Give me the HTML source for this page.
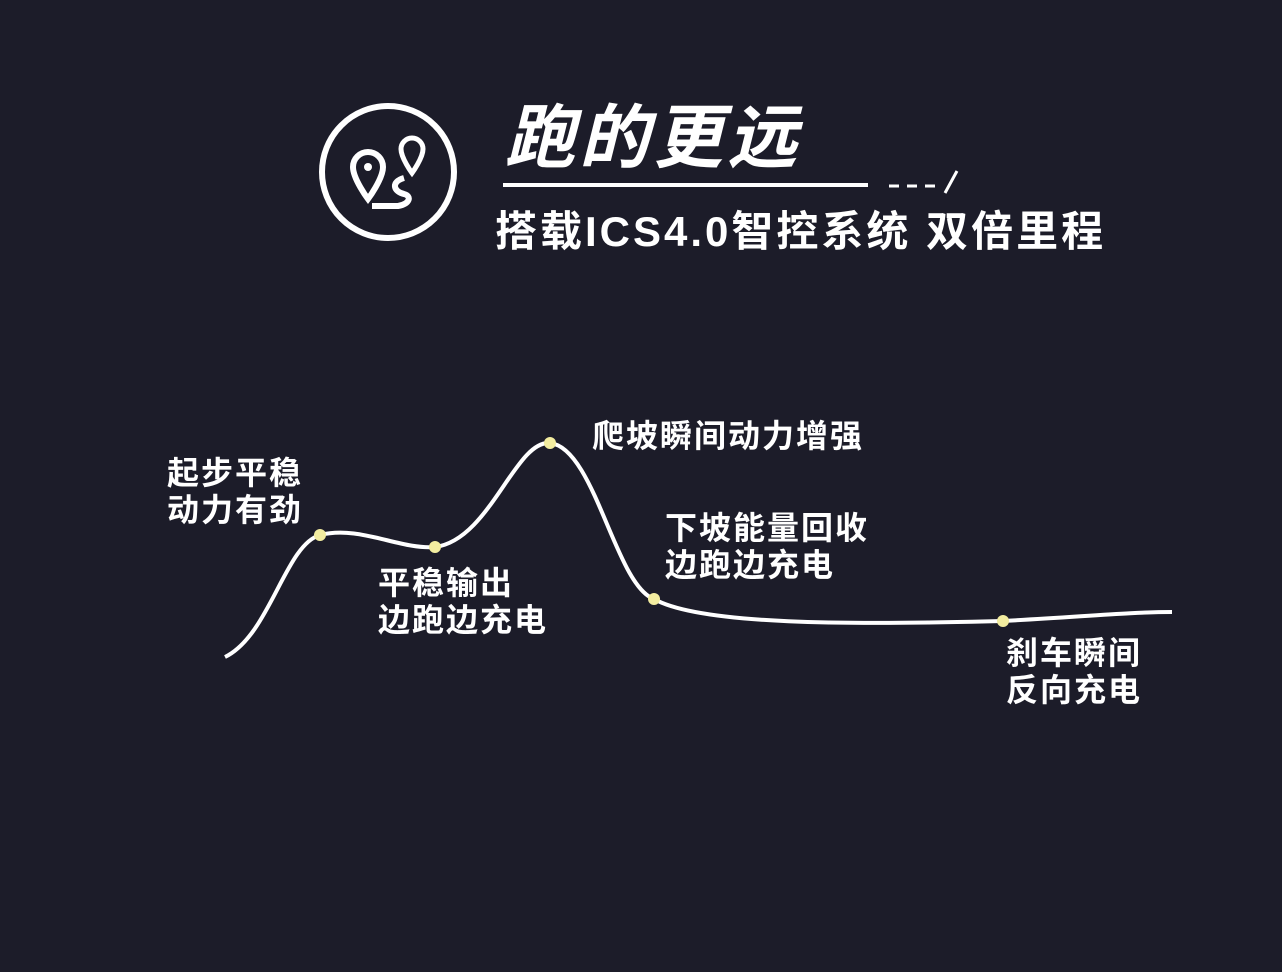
<!DOCTYPE html>
<html><head><meta charset="utf-8"><style>
html,body{margin:0;padding:0;}
body{width:1282px;height:972px;background:#1c1c29;position:relative;overflow:hidden;font-family:"Liberation Sans","Noto Sans CJK SC",sans-serif;color:#fff;}
.t{position:absolute;font-weight:bold;white-space:nowrap;}
.l{font-size:32px;line-height:37px;letter-spacing:2px;}
</style></head><body>
<svg width="1282" height="972" style="position:absolute;left:0;top:0">
<circle cx="388" cy="172" r="66" fill="none" stroke="#fff" stroke-width="6"/>
<path d="M368 152 a15 15 0 0 1 15 15 c0 12 -15 32 -15 32 c0 0 -15 -20 -15 -32 a15 15 0 0 1 15 -15z" fill="none" stroke="#fff" stroke-width="6"/>
<circle cx="368" cy="167" r="4" fill="#fff"/>
<path d="M412 138 a11 11 0 0 1 11 11 c0 9 -11 24 -11 24 c0 0 -11 -15 -11 -24 a11 11 0 0 1 11 -11z" fill="none" stroke="#fff" stroke-width="5"/>
<path d="M404 178 c-14 4 -10 14 0 16 c8 2 6 10 -6 12 l-26 0" fill="none" stroke="#fff" stroke-width="6"/>
<line x1="503" y1="185" x2="868" y2="185" stroke="#fff" stroke-width="4"/>
<path d="M889 186h10M907 186h10M925 186h10M945 193l12 -22" stroke="#fff" stroke-width="3"/>
<path d="M225 657 C270 635 285 545 320 535 C360 525 400 550 435 547 C490 540 515 440 550 443 C595 448 615 585 654 599 C700 625 850 625 1003 621 C1080 617 1130 612 1172 612" fill="none" stroke="#fff" stroke-width="4"/>
<g fill="#f3eda0"><circle cx="320" cy="535" r="6"/><circle cx="435" cy="547" r="6"/><circle cx="550" cy="443" r="6"/><circle cx="654" cy="599" r="6"/><circle cx="1003" cy="621" r="6"/></g>
</svg>
<div class="t" style="left:505px;top:96px;font-size:70px;font-style:italic;line-height:84px;letter-spacing:4px">跑的更远</div>
<div class="t" style="left:495px;top:207px;font-size:42px;line-height:50px;letter-spacing:3px">搭载ICS4.0智控系统 双倍里程</div>
<div class="t l" style="left:167px;top:455px">起步平稳<br>动力有劲</div>
<div class="t l" style="left:378px;top:565px">平稳输出<br>边跑边充电</div>
<div class="t l" style="left:592px;top:418px">爬坡瞬间动力增强</div>
<div class="t l" style="left:665px;top:510px">下坡能量回收<br>边跑边充电</div>
<div class="t l" style="left:1006px;top:635px">刹车瞬间<br>反向充电</div>
</body></html>
